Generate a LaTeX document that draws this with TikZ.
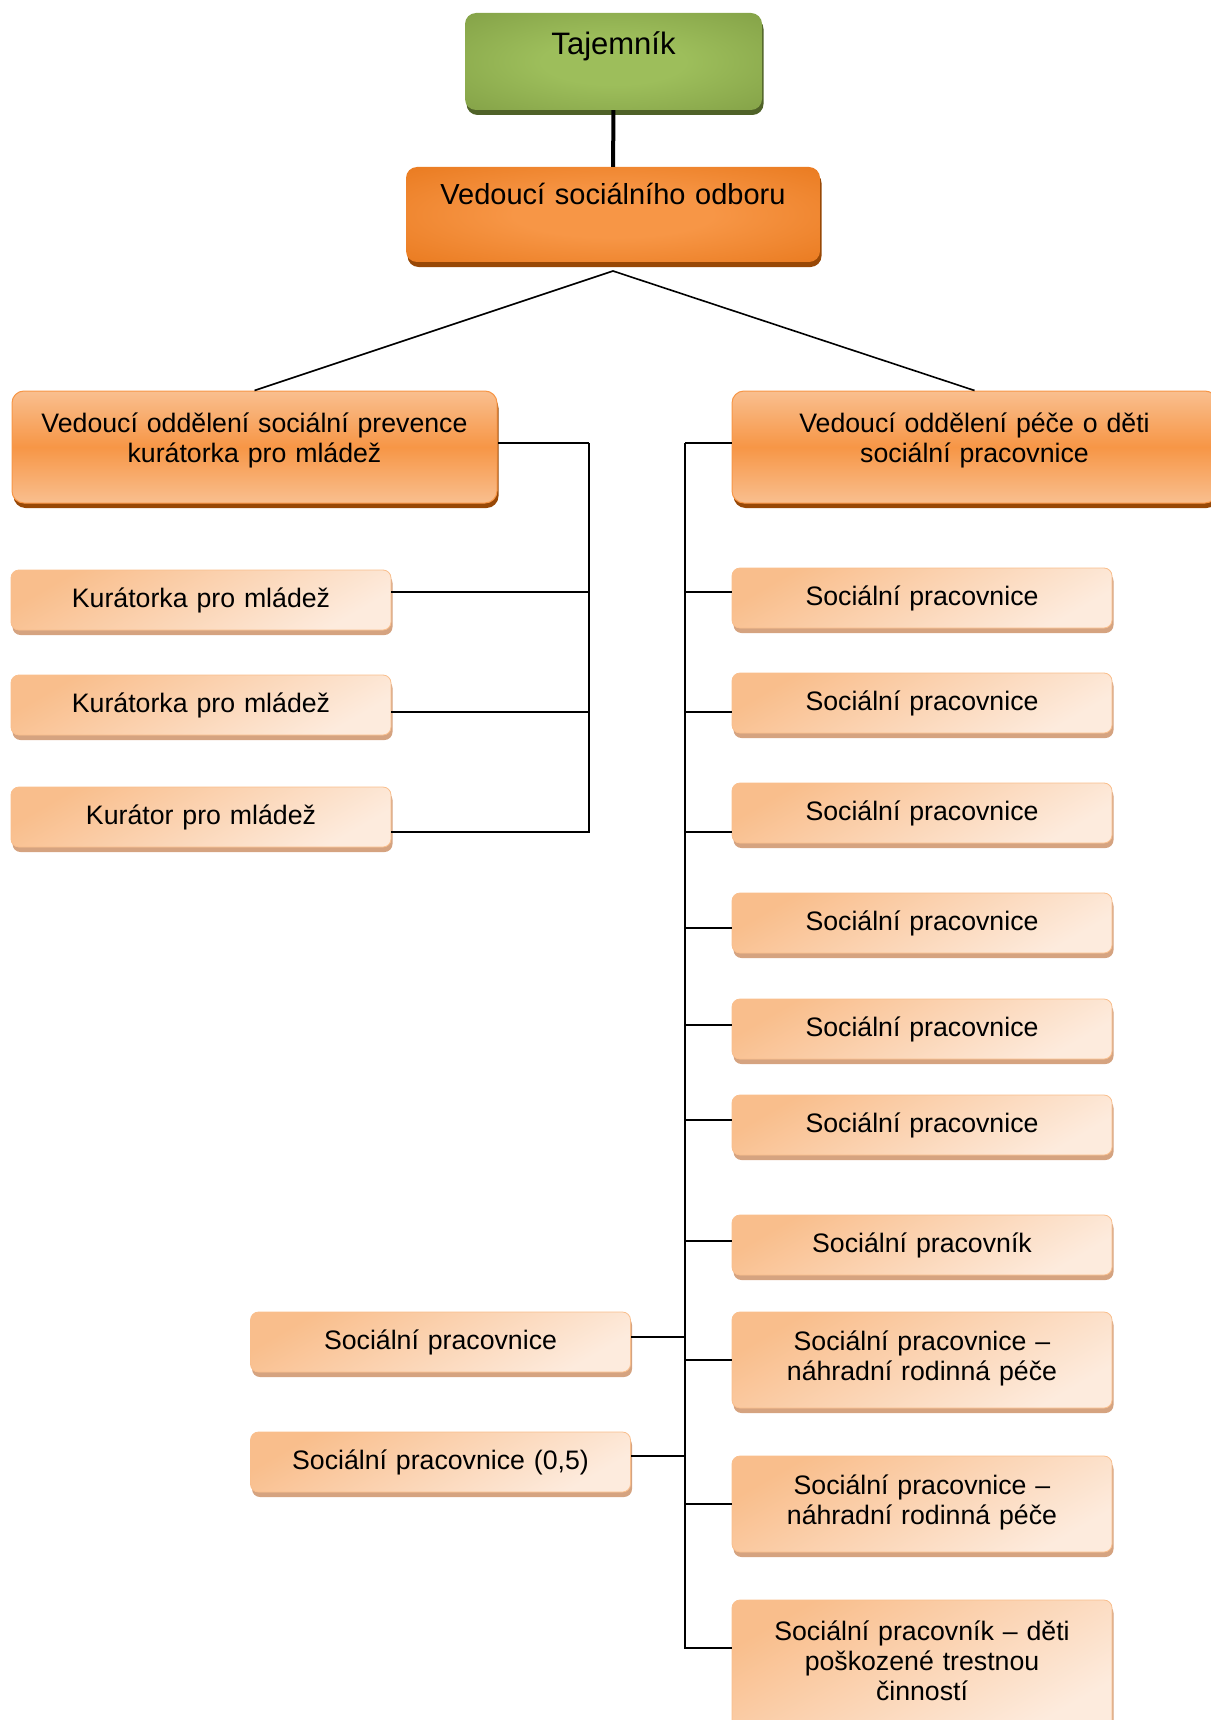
\documentclass[tikz,border=0pt]{standalone}
\usepackage{fontspec}
\setmainfont{Liberation Sans}
\usetikzlibrary{shadows}

\definecolor{leafL}{HTML}{9DBE5B}
\definecolor{leafD}{HTML}{76923C}
\definecolor{leafS}{HTML}{4F6228}
\definecolor{rustD}{HTML}{E26B0A}
\definecolor{rustM}{HTML}{F79646}
\definecolor{rustL}{HTML}{F9BF8F}
\definecolor{rustS}{HTML}{984806}
\definecolor{peachA}{HTML}{F9BE8C}
\definecolor{peachB}{HTML}{FDEBDD}
\definecolor{peachS}{HTML}{D5A380}

\pgfdeclareradialshading{leafglow}{\pgfpoint{0bp}{0bp}}{color(0bp)=(leafL); color(12bp)=(leafL); color(50bp)=(leafD)}
\pgfdeclareradialshading{rustglow}{\pgfpoint{0bp}{0bp}}{color(0bp)=(rustM); color(12bp)=(rustM); color(50bp)=(rustD)}

\tikzset{
  box/.style={rectangle, inner sep=0pt, align=center, font=\fontsize{26.7}{30}\selectfont},
  chiefgreen/.style={box, rounded corners=11pt, shade, shading=leafglow,
    drop shadow={shadow xshift=1.5pt, shadow yshift=-5pt, fill=leafS, opacity=1},
    text width=297pt, text height=42pt, text depth=55pt, font=\fontsize{31}{36}\selectfont},
  chieforange/.style={box, rounded corners=11pt, shade, shading=rustglow,
    drop shadow={shadow xshift=1.5pt, shadow yshift=-5pt, fill=rustS, opacity=1},
    text width=414pt, text height=38pt, text depth=57pt, font=\fontsize{29}{34}\selectfont},
  head/.style={box, rounded corners=12pt, draw=rustM, line width=1pt,
    top color=rustL, bottom color=rustL, middle color=rustM,
    drop shadow={shadow xshift=1.5pt, shadow yshift=-5pt, fill=rustS, opacity=1},
    text width=485pt, text height=41pt, text depth=71pt},
  staff/.style={box, rounded corners=8pt, draw=peachA, line width=0.8pt,
    top color=peachA, bottom color=peachB, shading angle=30,
    drop shadow={shadow xshift=1.5pt, shadow yshift=-5pt, fill=peachS, opacity=1},
    text width=380pt, text height=37pt, text depth=23pt},
  staffii/.style={staff, text height=38pt, text depth=58pt},
  staffiii/.style={staff, text height=40pt, text depth=88pt},
  link/.style={line width=1.6pt},
  trunk/.style={line width=4pt}
}

\begin{document}
\begin{tikzpicture}[x=1pt, y=-1pt]
\useasboundingbox (0,0) rectangle (1210,1720);

% Top
\node[chiefgreen] (taj) at (613.5,61.5) {Tajemník};
\node[chieforange] (odbor) at (613,214.5) {Vedoucí sociálního odboru};

% Department heads
\node[head] (prevence) at (254.5,447) {Vedoucí oddělení sociální prevence\\kurátorka pro mládež};
\node[head] (pece) at (974.5,447) {Vedoucí oddělení péče o děti\\sociální pracovnice};

% Prevence
\node[staff] (kur1) at (201,600) {Kurátorka pro mládež};
\node[staff] (kur2) at (201,705) {Kurátorka pro mládež};
\node[staff] (kur3) at (201,817) {Kurátor pro mládež};

% Pece o deti
\node[staff] (sp1) at (922,598) {Sociální pracovnice};
\node[staff] (sp2) at (922,703) {Sociální pracovnice};
\node[staff] (sp3) at (922,813) {Sociální pracovnice};
\node[staff] (sp4) at (922,923) {Sociální pracovnice};
\node[staff] (sp5) at (922,1029) {Sociální pracovnice};
\node[staff] (sp6) at (922,1125) {Sociální pracovnice};
\node[staff] (spm) at (922,1245) {Sociální pracovník};
\node[staffii] (nrp1) at (922,1360) {Sociální pracovnice –\\náhradní rodinná péče};
\node[staffii] (nrp2) at (922,1504) {Sociální pracovnice –\\náhradní rodinná péče};
\node[staffiii] (deti) at (922,1664) {Sociální pracovník – děti\\poškozené trestnou\\činností};
\node[staff] (ls1) at (440.5,1342) {Sociální pracovnice};
\node[staff] (ls2) at (440.5,1462) {Sociální pracovnice (0,5)};

% Edges
\coordinate (apex) at (613,271);
\coordinate (lbus) at (589,443);
\coordinate (rbus) at (685,443);

\draw[trunk] (taj) -- (odbor);
\draw[link] (prevence.north) -- (apex) -- (pece.north);
\draw[link] (lbus) -- ([yshift=4pt]prevence.east);
\draw[link] (rbus) -- ([yshift=4pt]pece.west);
\foreach \n/\s in {kur1/8, kur2/-7, kur3/-15}
  \draw[link] (lbus) |- ([yshift=\s pt]\n.east);
\foreach \n/\s in {ls1/5, ls2/6}
  \draw[link] (rbus) |- ([yshift=\s pt]\n.east);
\foreach \n/\s in {sp1/6, sp2/-9, sp3/-19, sp4/-5, sp5/4, sp6/5, spm/4, nrp1/0, nrp2/0, deti/16}
  \draw[link] (rbus) |- ([yshift=\s pt]\n.west);

\end{tikzpicture}
\end{document}
